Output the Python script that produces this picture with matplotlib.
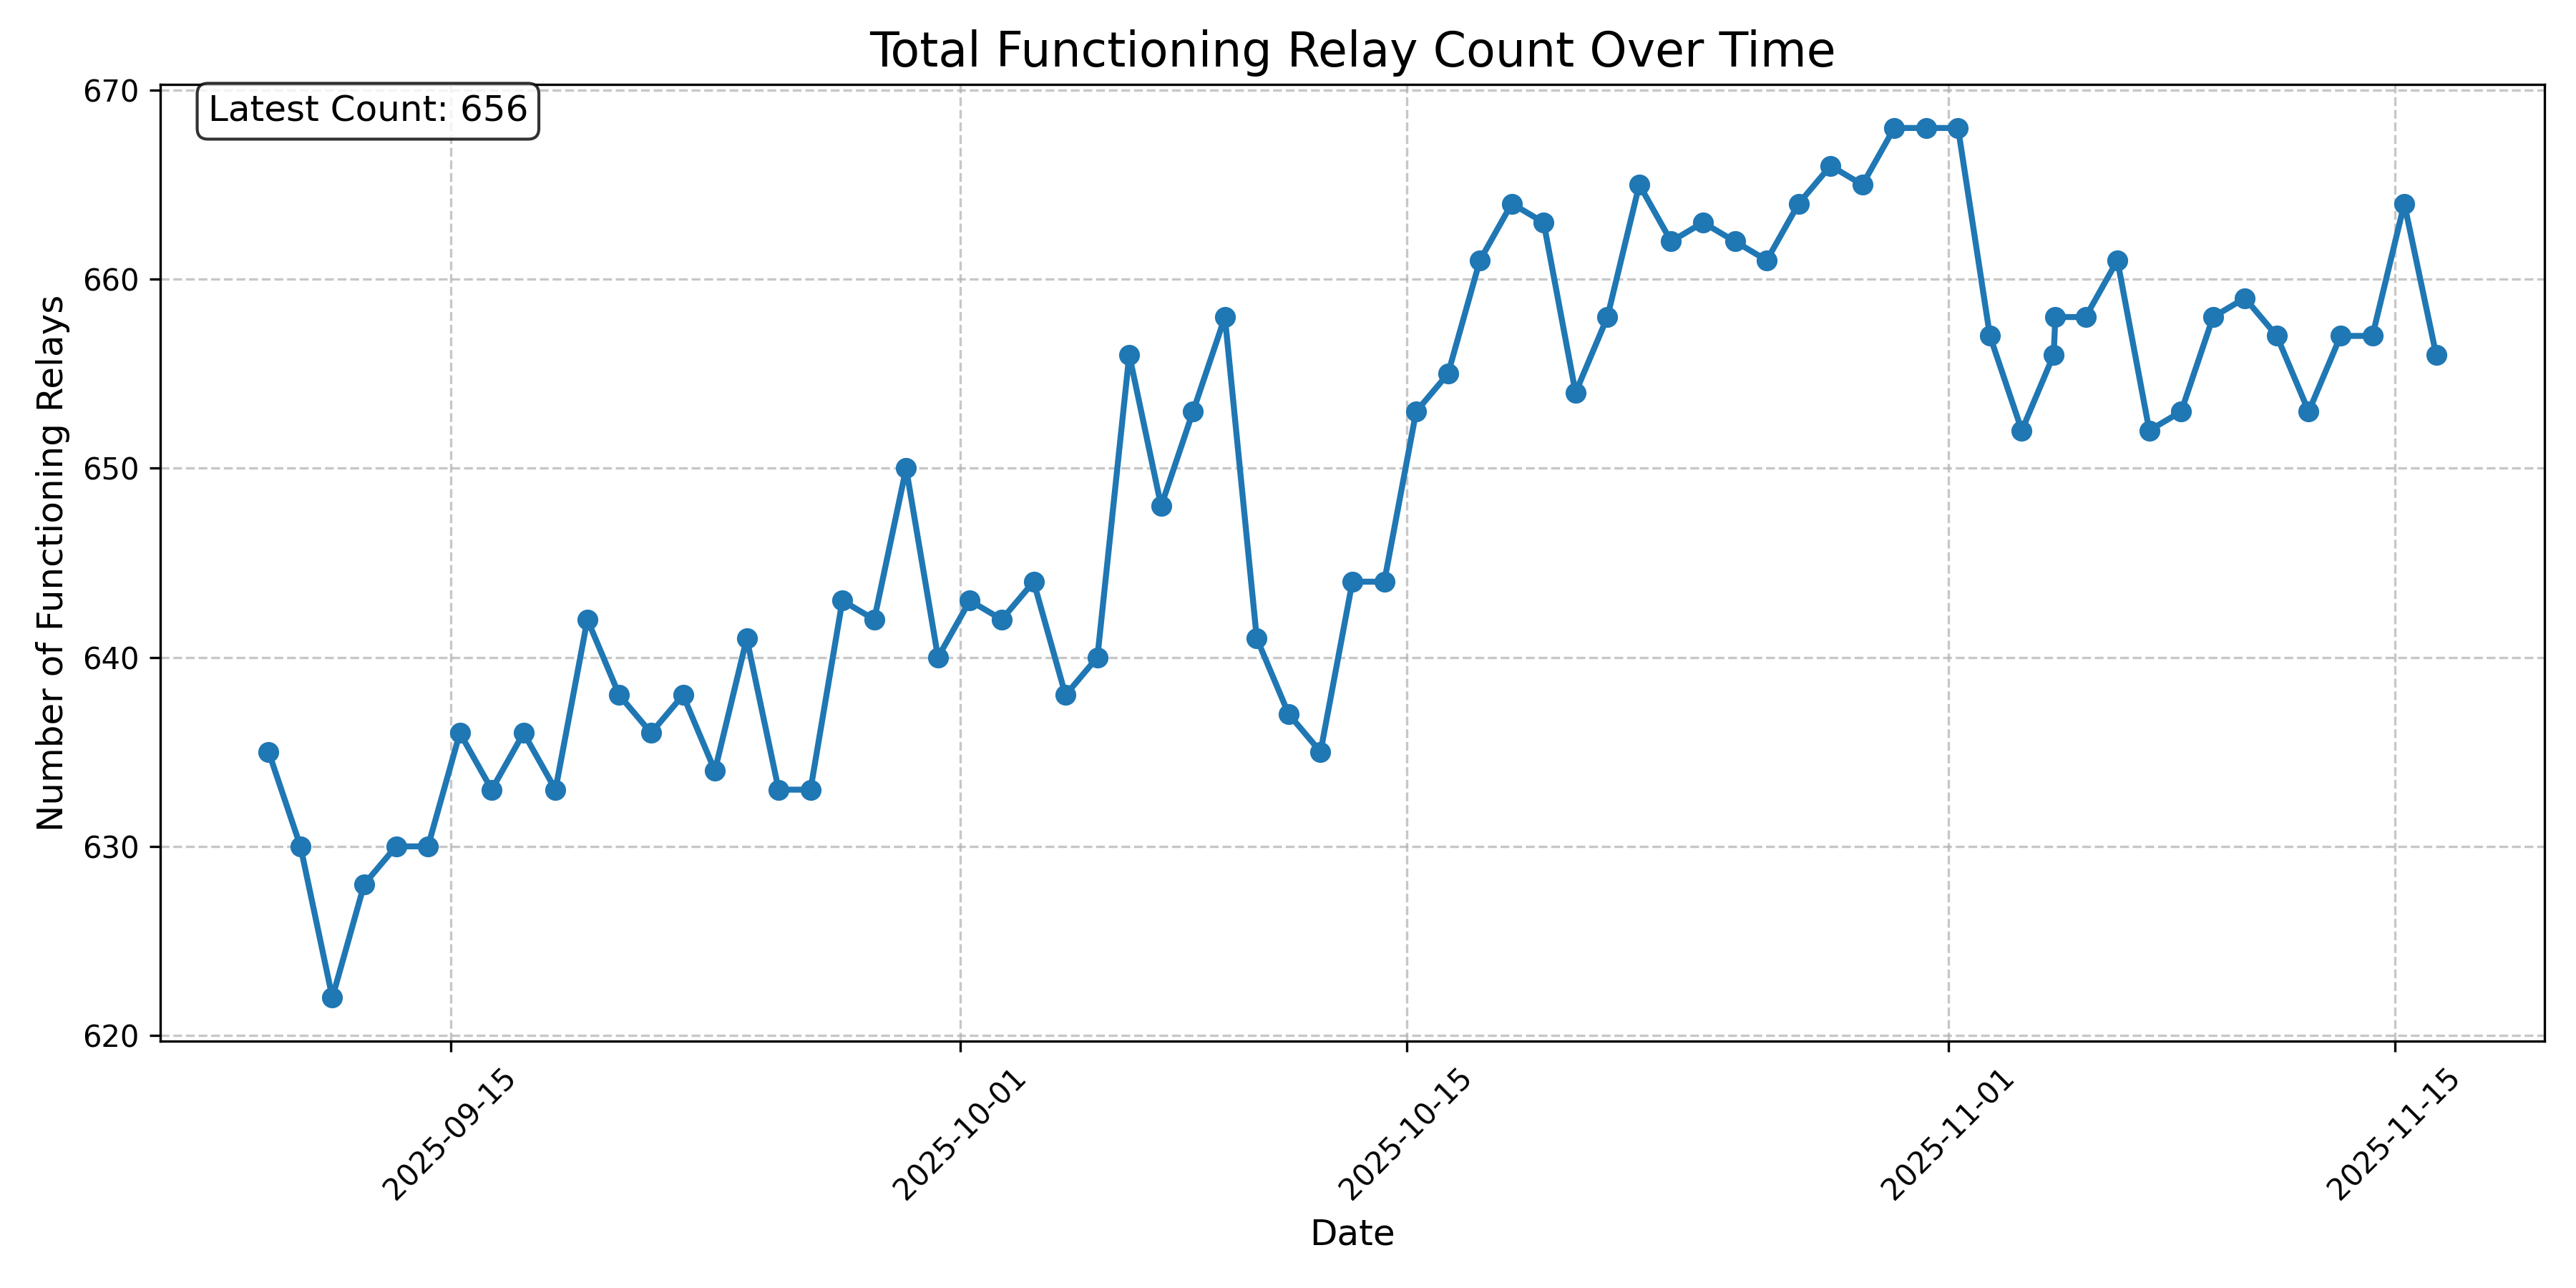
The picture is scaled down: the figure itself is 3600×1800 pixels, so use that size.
import matplotlib
matplotlib.use('Agg')
import matplotlib.pyplot as plt
import matplotlib.dates as mdates
import pandas as pd

# daily readings (~07:00), two readings on 2025-11-04
dates = list(pd.date_range('2025-09-09 07:00', '2025-11-04 07:00', freq='D')) + \
        [pd.Timestamp('2025-11-04 08:15')] + \
        list(pd.date_range('2025-11-05 07:00', '2025-11-16 07:00', freq='D'))

counts = [635, 630, 622, 628, 630, 630, 636, 633, 636, 633,
          642, 638, 636, 638, 634, 641, 633, 633, 643, 642,
          650, 640, 643, 642, 644, 638, 640, 656, 648, 653,
          658, 641, 637, 635, 644, 644, 653, 655, 661, 664,
          663, 654, 658, 665, 662, 663, 662, 661, 664, 666,
          665, 668, 668, 668, 657, 652, 656, 658,
          658, 661, 652, 653, 658, 659, 657, 653, 657, 657, 664, 656]

fig, ax = plt.subplots(figsize=(12, 6), dpi=300)
ax.plot(dates, counts, marker='o', color='#1f77b4', lw=2, ms=6)
ax.set_title('Total Functioning Relay Count Over Time', fontsize=16)
ax.set_xlabel('Date', fontsize=12)
ax.set_ylabel('Number of Functioning Relays', fontsize=12)
ax.grid(True, ls='--', alpha=0.7)
ax.xaxis.set_major_locator(mdates.DayLocator(bymonthday=[1, 15]))
ax.xaxis.set_major_formatter(mdates.DateFormatter('%Y-%m-%d'))
plt.setp(ax.get_xticklabels(), rotation=45)
ax.text(0.02, 0.99, f'Latest Count: {counts[-1]}', transform=ax.transAxes, fontsize=12,
        va='top', bbox=dict(boxstyle='round', facecolor='white', alpha=0.8))
fig.subplots_adjust(left=0.0622, right=0.9878, top=0.9344, bottom=0.1917)
fig.savefig('out.png', dpi=300)
